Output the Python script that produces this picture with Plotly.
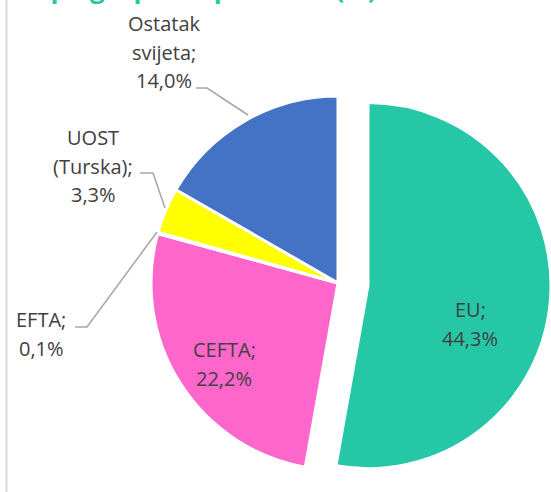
import plotly.graph_objects as go

# ---- data ----
categories = ["EU", "CEFTA", "EFTA", "UOST (Turska)", "Ostatak svijeta"]
shares = [44.3, 22.2, 0.1, 3.3, 14.0]
name_lines = [["EU;"], ["CEFTA;"], ["EFTA;"], ["UOST", "(Turska);"], ["Ostatak", "svijeta;"]]
slice_colors = ["#26C7A7", "#FF66CC", "#A5A5A5", "#FFFF00", "#4472C4"]
title_text = "Izvoz po grupama partnera (%)"

W, H = 551, 492
TXT = "#404040"
FONT = "Open Sans"


def px(x):
    return x / W


def py(y):
    return 1 - y / H


def fmt(v):
    return f"{v:.1f}".replace(".", ",") + "%"


fig = go.Figure()
clear = "rgba(0,0,0,0)"

# slices other than the exploded EU slice
colA = [clear] + slice_colors[1:]
fig.add_trace(go.Pie(
    labels=categories, values=shares, sort=False, direction="clockwise", rotation=0,
    marker=dict(colors=colA, line=dict(color="white", width=[0, 3, 3, 3, 3])),
    textinfo="none", hoverinfo="label+value", showlegend=False,
    domain=dict(x=[px(151), px(525)], y=[py(470), py(96)]),
))
# the exploded EU slice
colB = [slice_colors[0]] + [clear] * (len(categories) - 1)
fig.add_trace(go.Pie(
    labels=categories, values=shares, sort=False, direction="clockwise", rotation=0,
    marker=dict(colors=colB, line=dict(color="white", width=[3, 0, 0, 0, 0])),
    textinfo="none", hoverinfo="label+value", showlegend=False,
    domain=dict(x=[px(185), 1], y=[py(468.6), py(102.6)]),
))

# data labels (center x, first baseline y)
label_pos = {
    "EU": (470, 317),
    "CEFTA": (224, 357),
    "EFTA": (41, 327),
    "UOST (Turska)": (93, 145),
    "Ostatak svijeta": (164, 31),
}
LS = 28.7
annotations = []
for cat, val, lines in zip(categories, shares, name_lines):
    cx, by = label_pos[cat]
    all_lines = lines + [fmt(val)]
    for k, t in enumerate(all_lines):
        annotations.append(dict(
            x=px(cx), y=py(by + k * LS - 7.5), xref="paper", yref="paper",
            text=t, showarrow=False, xanchor="center", yanchor="middle",
            font=dict(family=FONT, size=20, color=TXT),
        ))

# clipped title at the top
annotations.append(dict(
    x=px(379), y=py(7.5), xref="paper", yref="paper", text="<b>" + title_text + "</b>",
    showarrow=False, xanchor="right", yanchor="bottom",
    font=dict(family=FONT, size=26, color="#26C6A6"),
))

# leader lines
def path(pts):
    return "M " + " L ".join(f"{px(x)},{py(y)}" for x, y in pts)

leaders = [
    [(196, 88), (207, 88), (248, 115)],
    [(140, 173), (153, 173), (165, 208)],
    [(75, 327), (87, 327), (157, 232)],
]
shapes = [dict(type="path", path=path(p), xref="paper", yref="paper",
               line=dict(color="#A6A6A6", width=1.5)) for p in leaders]
shapes.append(dict(type="line", x0=px(6.5), x1=px(6.5), y0=0, y1=1, xref="paper", yref="paper",
                   line=dict(color="#D9D9D9", width=2)))

fig.update_layout(
    width=W, height=H, margin=dict(l=0, r=0, t=0, b=0),
    paper_bgcolor="white", plot_bgcolor="white",
    annotations=annotations, shapes=shapes, showlegend=False,
)

fig.write_html("out.html", config={"displayModeBar": False},
               post_script="document.body.style.margin='0';document.body.style.overflow='hidden';")
